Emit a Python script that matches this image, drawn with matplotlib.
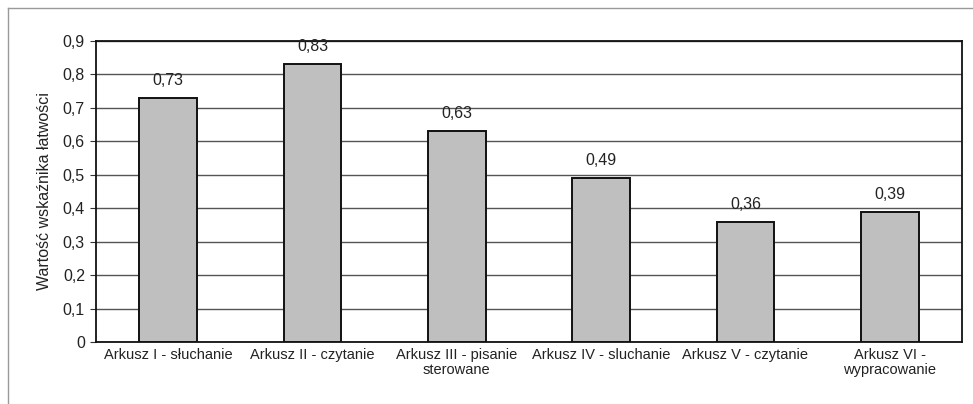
import matplotlib.pyplot as plt
from matplotlib.lines import Line2D
from matplotlib.ticker import FuncFormatter, MultipleLocator

plt.rcParams['font.family'] = ['Liberation Sans', 'DejaVu Sans']

categories = ["Arkusz I - słuchanie", "Arkusz II - czytanie", "Arkusz III - pisanie\nsterowane",
              "Arkusz IV - sluchanie", "Arkusz V - czytanie", "Arkusz VI -\nwypracowanie"]
values = [0.73, 0.83, 0.63, 0.49, 0.36, 0.39]

fig = plt.figure(figsize=(9.73, 4.04), dpi=100)
ax = fig.add_axes([96 / 973, 1 - 342 / 404, 866 / 973, 301 / 404])

x = range(len(categories))
ax.bar(x, values, width=0.40, color="#bfbfbf", edgecolor="#111111", linewidth=1.4, zorder=3)

for xi, v in zip(x, values):
    ax.text(xi, v + 0.03, ("%.2f" % v).replace(".", ","), ha="center", va="bottom",
            fontsize=11.5, color="#222222")

ax.set_xlim(-0.5, len(categories) - 0.5)
ax.set_ylim(0, 0.9)
ax.yaxis.set_major_locator(MultipleLocator(0.1))
ax.yaxis.set_major_formatter(FuncFormatter(lambda v, p: "0" if abs(v) < 1e-9 else ("%.1f" % v).replace(".", ",")))
ax.grid(axis="y", color="#555555", linewidth=1.0, zorder=0)
ax.set_xticks(list(x))
ax.set_xticklabels(categories, fontsize=10.5, color="#222222", linespacing=1.1)
ax.tick_params(axis="x", length=0, pad=4)
ax.tick_params(axis="y", labelsize=11.5, length=4, color="#333333", labelcolor="#222222", pad=4)
for s in ax.spines.values():
    s.set_color("#111111")
    s.set_linewidth(1.3)
ax.set_ylabel("Wartość wskaźnika łatwości", fontsize=11.5, color="#222222", labelpad=8)

# scanned frame, cut off at the right and bottom edges
fig.add_artist(Line2D([8 / 973, 8 / 973], [0, 1 - 8 / 404], transform=fig.transFigure,
                      color="#999999", linewidth=1.0))
fig.add_artist(Line2D([8 / 973, 1], [1 - 8 / 404, 1 - 8 / 404], transform=fig.transFigure,
                      color="#999999", linewidth=1.0))

fig.savefig("out.png", dpi=100)
